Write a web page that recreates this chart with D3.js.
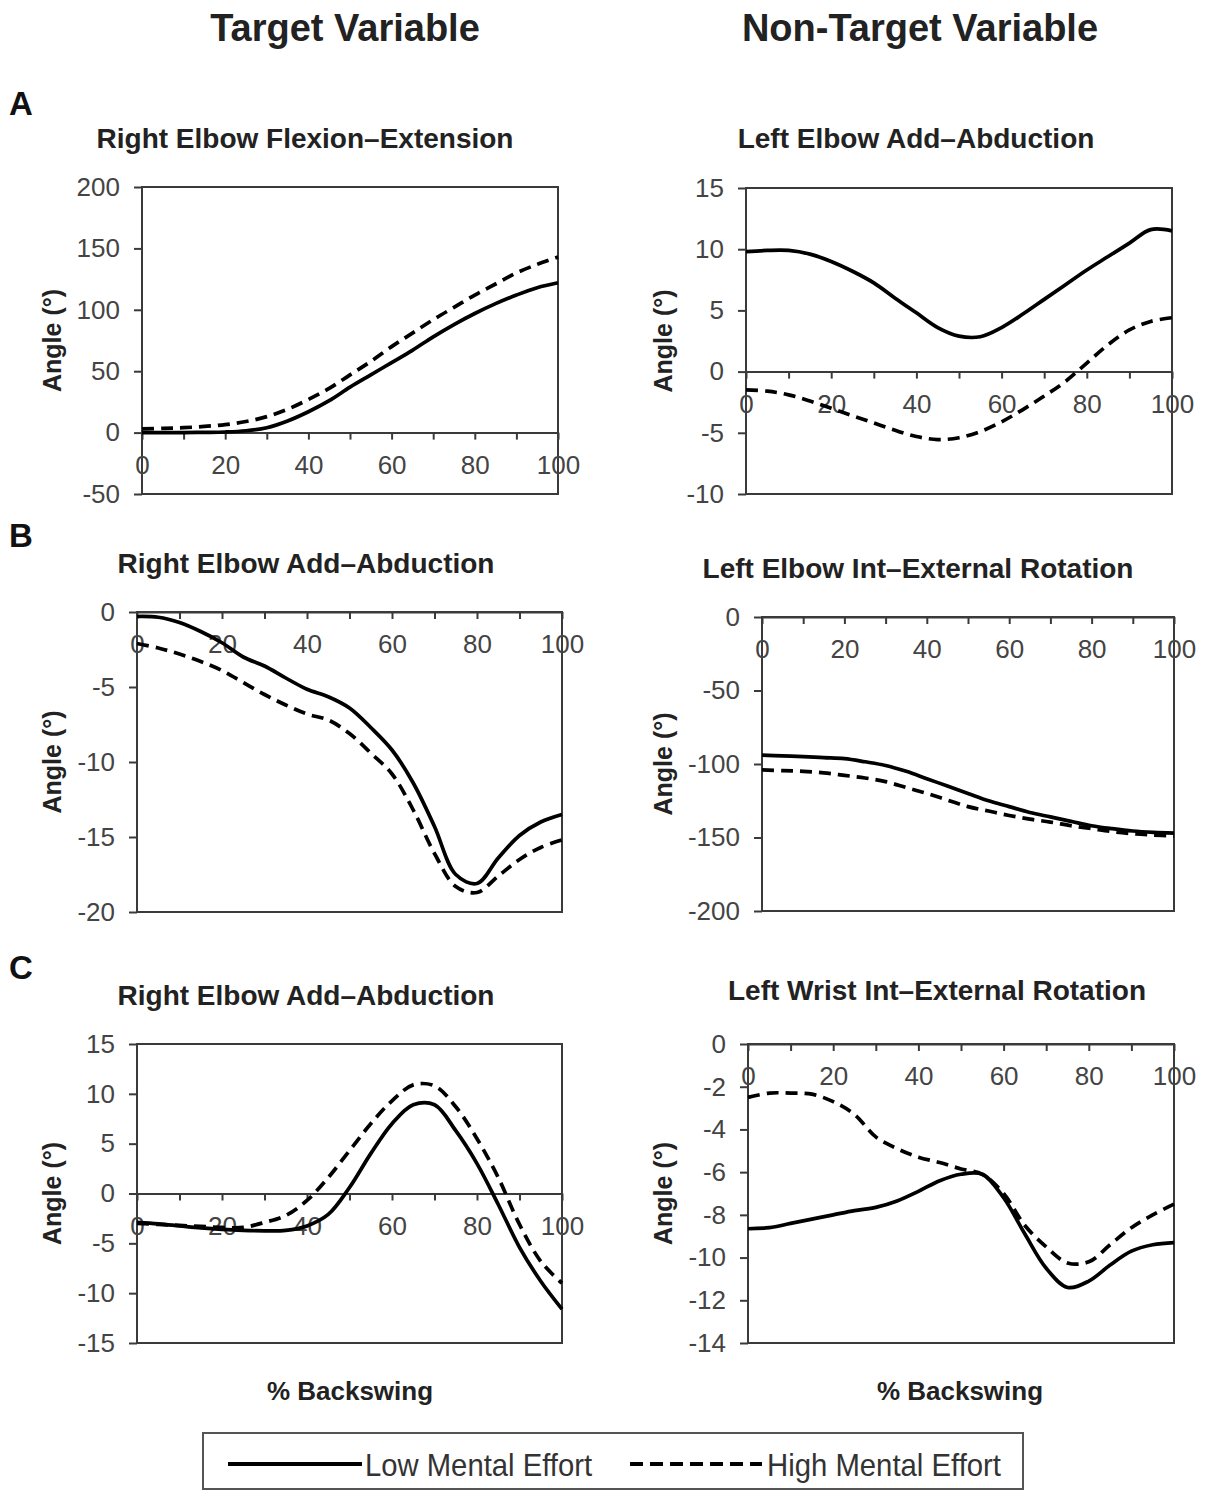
<!DOCTYPE html>
<html>
<head>
<meta charset="utf-8">
<script src="https://cdn.jsdelivr.net/npm/d3@7"></script>
<style>
  body { margin: 0; background: #fff; }
  svg text { font-family: "Liberation Sans", Arial, sans-serif; }
</style>
</head>
<body>
<div id="chart"></div>
<script>
// % backswing sample points
const pct = [0, 5, 10, 15, 20, 25, 30, 35, 40, 45, 50, 55, 60, 65, 70, 75, 80, 85, 90, 95, 100];

// A - right elbow flexion-extension (target)
const aLeftLow  = [0, 0, 0, 0.2, 0.5, 1.5, 4, 9.5, 17, 26, 37, 47, 57, 67, 78, 88, 97, 105, 112, 118, 122];
const aLeftHigh = [3, 3.5, 4, 5, 6.5, 9, 13, 19, 27, 36, 47, 58, 70, 81, 92, 102, 112, 121, 130, 137, 143];
// A - left elbow add-abduction (non-target)
const aRightLow  = [9.8, 9.9, 9.9, 9.6, 9.0, 8.2, 7.25, 6.0, 4.8, 3.6, 2.9, 2.85, 3.6, 4.7, 5.9, 7.1, 8.3, 9.4, 10.5, 11.6, 11.5];
const aRightHigh = [-1.5, -1.6, -1.9, -2.4, -3.0, -3.6, -4.2, -4.8, -5.3, -5.55, -5.4, -4.9, -4.1, -3.1, -2.0, -0.8, 0.7, 2.2, 3.4, 4.1, 4.4];
// B - right elbow add-abduction (target)
const bLeftLow  = [-0.3, -0.35, -0.7, -1.3, -2.05, -3.0, -3.6, -4.4, -5.15, -5.65, -6.4, -7.7, -9.2, -11.4, -14.3, -17.5, -18.1, -16.4, -14.9, -14.0, -13.5];
const bLeftHigh = [-2.1, -2.4, -2.8, -3.3, -3.9, -4.7, -5.5, -6.2, -6.8, -7.2, -8.1, -9.4, -10.8, -13.2, -16.1, -18.3, -18.7, -17.6, -16.5, -15.7, -15.2];
// B - left elbow int-external rotation (non-target)
const bRightLow  = [-94, -94.5, -95, -95.7, -96.4, -98.5, -101, -105, -110, -115, -120, -125, -129, -133, -136, -139, -142, -144, -145.6, -146.5, -147];
const bRightHigh = [-104, -104.5, -105, -106, -107.7, -109.5, -112, -116, -120, -124.5, -129, -132, -135, -137.5, -139.5, -142, -144, -146, -147.4, -148.3, -149];
// C - right elbow add-abduction (target)
const cLeftLow  = [-2.9, -3.05, -3.25, -3.45, -3.6, -3.7, -3.75, -3.7, -3.25, -2.1, 0.6, 4.0, 7.0, 8.9, 8.9, 6.3, 3.0, -1.1, -5.4, -8.8, -11.6];
const cLeftHigh = [-3.0, -3.1, -3.2, -3.3, -3.4, -3.4, -2.9, -2.2, -0.7, 1.6, 4.3, 7.0, 9.3, 10.9, 10.8, 8.7, 5.5, 1.6, -3.1, -6.8, -9.0];
// C - left wrist int-external rotation (non-target)
const cRightLow  = [-8.65, -8.6, -8.4, -8.2, -8.0, -7.8, -7.65, -7.35, -6.9, -6.4, -6.1, -6.1, -7.2, -8.9, -10.5, -11.4, -11.1, -10.35, -9.7, -9.4, -9.3];
const cRightHigh = [-2.5, -2.3, -2.3, -2.35, -2.7, -3.3, -4.35, -4.9, -5.3, -5.55, -5.85, -6.1, -7.0, -8.5, -9.5, -10.25, -10.2, -9.4, -8.6, -8.0, -7.5];

// y tick labels per panel
const aLeftTicks  = [-50, 0, 50, 100, 150, 200];
const aRightTicks = [-10, -5, 0, 5, 10, 15];
const bLeftTicks  = [-20, -15, -10, -5, 0];
const bRightTicks = [-200, -150, -100, -50, 0];
const cLeftTicks  = [-15, -10, -5, 0, 5, 10, 15];
const cRightTicks = [-14, -12, -10, -8, -6, -4, -2, 0];
const xTicks = [0, 10, 20, 30, 40, 50, 60, 70, 80, 90, 100];

const titles = [
  'Right Elbow Flexion\u2013Extension', 'Left Elbow Add\u2013Abduction',
  'Right Elbow Add\u2013Abduction', 'Left Elbow Int\u2013External Rotation',
  'Right Elbow Add\u2013Abduction', 'Left Wrist Int\u2013External Rotation'
];
const seriesNames = ['Low Mental Effort', 'High Mental Effort'];

const width = 1205, height = 1491;
const svg = d3.select('#chart').append('svg')
  .attr('width', width).attr('height', height);

// PANEL LAYOUT
const panels = [
  { box: [142, 558, 187, 494], dom: [-50, 200], ticks: aLeftTicks,  low: aLeftLow,  high: aLeftHigh,  labX: 52,  title: [305, 148] },
  { box: [746, 1172, 188, 494], dom: [-10, 15], ticks: aRightTicks, low: aRightLow, high: aRightHigh, labX: 663, title: [916, 148] },
  { box: [137, 562, 612, 912], dom: [-20, 0],   ticks: bLeftTicks,  low: bLeftLow,  high: bLeftHigh,  labX: 52,  title: [306, 573] },
  { box: [762, 1174, 617, 911], dom: [-200, 0], ticks: bRightTicks, low: bRightLow, high: bRightHigh, labX: 663, title: [918, 578] },
  { box: [137, 562, 1044, 1343], dom: [-15, 15], ticks: cLeftTicks, low: cLeftLow,  high: cLeftHigh,  labX: 52,  title: [306, 1005] },
  { box: [748, 1174, 1044, 1343], dom: [-14, 0], ticks: cRightTicks, low: cRightLow, high: cRightHigh, labX: 663, title: [937, 1000] }
];

const axisColor = '#3a3a3a';

panels.forEach(function(p, i) {
  const [x0, x1, y0, y1] = p.box;
  const x = d3.scaleLinear().domain([0, 100]).range([x0, x1]);
  const y = d3.scaleLinear().domain(p.dom).range([y1, y0]);
  const g = svg.append('g');

  // frame
  g.append('rect')
    .attr('x', x0).attr('y', y0)
    .attr('width', x1 - x0).attr('height', y1 - y0)
    .attr('fill', 'none').attr('stroke', axisColor).attr('stroke-width', 2);

  // y axis (hyphen minus like the original)
  const yAxis = d3.axisLeft(y).tickValues(p.ticks).tickSize(8).tickPadding(14).tickSizeOuter(0)
    .tickFormat(d => String(d));
  const ya = g.append('g').attr('transform', `translate(${x0},0)`).call(yAxis);
  ya.select('.domain').remove();
  ya.selectAll('line').attr('stroke', axisColor).attr('stroke-width', 2);
  ya.selectAll('text').attr('font-size', 26).attr('fill', '#444');

  // x axis along zero
  const xAxis = d3.axisBottom(x).tickValues(xTicks).tickSize(7).tickPadding(16).tickSizeOuter(0)
    .tickFormat(d => d % 20 === 0 ? String(d) : '');
  const xa = g.append('g').attr('transform', `translate(0,${y(0)})`).call(xAxis);
  xa.select('.domain').attr('stroke', axisColor).attr('stroke-width', 2);
  xa.selectAll('line').attr('stroke', axisColor).attr('stroke-width', 2);
  xa.selectAll('text').attr('font-size', 26).attr('fill', '#444');

  // curves
  const line = d3.line()
    .x((d, k) => x(pct[k]))
    .y(d => y(d))
    .curve(d3.curveCatmullRom.alpha(0.5));
  g.append('path').datum(p.high)
    .attr('d', line).attr('fill', 'none')
    .attr('stroke', '#000').attr('stroke-width', 3.7)
    .attr('stroke-dasharray', '12,7');
  g.append('path').datum(p.low)
    .attr('d', line).attr('fill', 'none')
    .attr('stroke', '#000').attr('stroke-width', 3.7);

  // titles
  g.append('text')
    .attr('x', p.title[0]).attr('y', p.title[1])
    .attr('text-anchor', 'middle')
    .attr('font-size', 28).attr('font-weight', 'bold').attr('fill', '#222')
    .text(titles[i]);

  g.append('text')
    .attr('transform', `translate(${p.labX},${(y0 + y1) / 2}) rotate(-90)`)
    .attr('text-anchor', 'middle').attr('dominant-baseline', 'central')
    .attr('font-size', 25).attr('font-weight', 'bold').attr('fill', '#222')
    .text('Angle (\u00b0)');
});

// column headers, panel letters, x labels
svg.append('text').attr('x', 345).attr('y', 41).attr('text-anchor', 'middle')
  .attr('font-size', 38).attr('font-weight', 'bold').attr('fill', '#222').text('Target Variable');
svg.append('text').attr('x', 920).attr('y', 41).attr('text-anchor', 'middle')
  .attr('font-size', 38).attr('font-weight', 'bold').attr('fill', '#222').text('Non-Target Variable');

[['A', 115], ['B', 547], ['C', 979]].forEach(function(l) {
  svg.append('text').attr('x', 9).attr('y', l[1])
    .attr('font-size', 33).attr('font-weight', 'bold').attr('fill', '#111').text(l[0]);
});

[350, 960].forEach(function(cx) {
  svg.append('text').attr('x', cx).attr('y', 1400).attr('text-anchor', 'middle')
    .attr('font-size', 26).attr('font-weight', 'bold').attr('fill', '#222').text('% Backswing');
});

// LEGEND
const lg = svg.append('g');
lg.append('rect').attr('x', 203).attr('y', 1433).attr('width', 820).attr('height', 56)
  .attr('fill', 'none').attr('stroke', '#555').attr('stroke-width', 2);
lg.append('line').attr('x1', 228).attr('x2', 362).attr('y1', 1464).attr('y2', 1464)
  .attr('stroke', '#000').attr('stroke-width', 4);
lg.append('text').attr('x', 365).attr('y', 1476)
  .attr('font-size', 32).attr('fill', '#333')
  .attr('textLength', 227).attr('lengthAdjust', 'spacingAndGlyphs')
  .text(seriesNames[0]);
lg.append('line').attr('x1', 630).attr('x2', 762).attr('y1', 1464).attr('y2', 1464)
  .attr('stroke', '#000').attr('stroke-width', 4).attr('stroke-dasharray', '13,7');
lg.append('text').attr('x', 767).attr('y', 1476)
  .attr('font-size', 32).attr('fill', '#333')
  .attr('textLength', 234).attr('lengthAdjust', 'spacingAndGlyphs')
  .text(seriesNames[1]);
</script>
</body>
</html>
